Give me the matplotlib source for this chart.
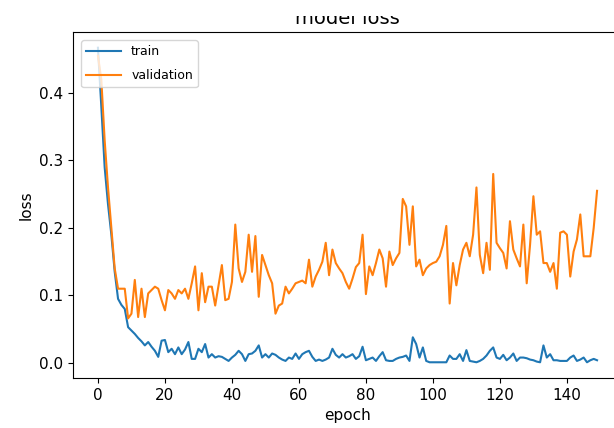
import matplotlib
matplotlib.use("Agg")
from matplotlib import pyplot as plt
from matplotlib.patches import Rectangle

# loss per epoch
train_loss = [
    0.467, 0.38, 0.29, 0.235, 0.19, 0.135, 0.095, 0.086, 0.08, 0.053,
    0.048, 0.043, 0.037, 0.032, 0.026, 0.031, 0.024, 0.018, 0.009, 0.033,
    0.034, 0.016, 0.021, 0.013, 0.023, 0.013, 0.02, 0.031, 0.006, 0.006,
    0.021, 0.016, 0.028, 0.008, 0.013, 0.008, 0.01, 0.009, 0.006, 0.003,
    0.008, 0.012, 0.018, 0.013, 0.003, 0.013, 0.014, 0.018, 0.026, 0.008,
    0.013, 0.008, 0.014, 0.012, 0.008, 0.005, 0.003, 0.008, 0.006, 0.014,
    0.006, 0.013, 0.016, 0.018, 0.009, 0.003, 0.005, 0.003, 0.005, 0.008,
    0.021, 0.012, 0.008, 0.013, 0.008, 0.01, 0.013, 0.006, 0.01, 0.024,
    0.004, 0.006, 0.008, 0.003, 0.01, 0.016, 0.004, 0.003, 0.003, 0.006,
    0.008, 0.009, 0.011, 0.003, 0.038, 0.028, 0.008, 0.023, 0.003, 0.001,
    0.001, 0.001, 0.001, 0.001, 0.001, 0.011, 0.006, 0.006, 0.013, 0.003,
    0.019, 0.003, 0.002, 0.001, 0.003, 0.006, 0.011, 0.018, 0.023, 0.008,
    0.006, 0.012, 0.004, 0.008, 0.014, 0.003, 0.008, 0.008, 0.007, 0.005,
    0.004, 0.002, 0.001, 0.026, 0.008, 0.013, 0.004, 0.004, 0.003, 0.003,
    0.003, 0.008, 0.011, 0.003, 0.005, 0.008, 0.001, 0.004, 0.006, 0.004,
]
val_loss = [
    0.455, 0.42, 0.33, 0.26, 0.2, 0.14, 0.11, 0.11, 0.11, 0.066,
    0.073, 0.123, 0.068, 0.11, 0.068, 0.103, 0.108, 0.113, 0.11, 0.093,
    0.078, 0.108, 0.103, 0.095, 0.108, 0.103, 0.11, 0.095, 0.118, 0.143,
    0.078, 0.133, 0.09, 0.113, 0.113, 0.085, 0.115, 0.145, 0.093, 0.095,
    0.12, 0.205, 0.14, 0.12, 0.135, 0.19, 0.135, 0.188, 0.098, 0.16,
    0.145, 0.13, 0.118, 0.073, 0.085, 0.088, 0.113, 0.103, 0.11, 0.118,
    0.12, 0.122, 0.118, 0.153, 0.113, 0.128, 0.138, 0.15, 0.178, 0.13,
    0.168, 0.148, 0.14, 0.133, 0.12, 0.11, 0.125, 0.142, 0.148, 0.19,
    0.102, 0.143, 0.13, 0.148, 0.168, 0.155, 0.113, 0.165, 0.145, 0.155,
    0.163, 0.243, 0.232, 0.175, 0.232, 0.143, 0.153, 0.13, 0.14, 0.145,
    0.148, 0.15, 0.158, 0.175, 0.203, 0.088, 0.148, 0.115, 0.145, 0.168,
    0.178, 0.158, 0.19, 0.26, 0.16, 0.133, 0.178, 0.138, 0.28, 0.178,
    0.17, 0.163, 0.14, 0.21, 0.168, 0.155, 0.143, 0.205, 0.118, 0.175,
    0.247, 0.19, 0.195, 0.148, 0.148, 0.135, 0.148, 0.11, 0.193, 0.195,
    0.19, 0.128, 0.165, 0.183, 0.22, 0.158, 0.158, 0.158, 0.2, 0.255,
]
epochs = list(range(len(train_loss)))

fig = plt.figure(figsize=(6.14, 4.28), dpi=100)
# axes run past the right edge, like the cropped screenshot
ax = fig.add_axes([73 / 614, 50 / 428, 549 / 614, 346 / 428])

ax.plot(epochs, train_loss, label="train")
ax.plot(epochs, val_loss, label="validation")

ax.set_title("model loss", fontsize=14)
ax.set_xlabel("epoch", fontsize=11)
ax.set_ylabel("loss", fontsize=11)
ax.tick_params(labelsize=11)
ax.legend(loc="upper left", fontsize=9, handlelength=2.8, labelspacing=0.9,
          borderaxespad=0.65)

# top strip of the screenshot is cut away
fig.patches.append(Rectangle((0, 1 - 16 / 428), 1, 16 / 428, transform=fig.transFigure,
                             facecolor="white", edgecolor="none", zorder=10))

fig.savefig("out.png", dpi=100)
